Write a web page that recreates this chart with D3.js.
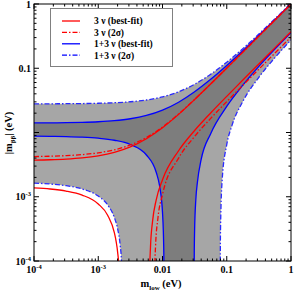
<!DOCTYPE html>
<html><head><meta charset="utf-8">
<script src="https://cdn.jsdelivr.net/npm/d3@7"></script>
<style>body{margin:0;background:#fff}svg{display:block}text{font-family:"Liberation Serif","DejaVu Serif",serif;font-weight:bold;fill:#000}</style>
</head><body><svg id="c" width="295" height="295"></svg>
<script>
// ---- data: [m_low (eV), |m_bb| (eV)] ----
const nu3BestMax = [[1e-4,0.00371],[1.78e-4,0.003763],[3.16e-4,0.003859],[5.62e-4,0.004031],[1e-3,0.004343],[1.78e-3,0.004912],[3.16e-3,0.005971],[5.62e-3,0.007987],[0.01,0.011849],[0.0178,0.019145],[0.0316,0.032571],[0.0562,0.056847],[0.1,0.100369],[0.178,0.17804],[0.316,0.31636],[0.562,0.56243],[1,1.0]];
const nu3BestMinLeft = [[1e-4,0.001373],[1.78e-4,0.00132],[3.16e-4,0.001226],[5.62e-4,0.001061],[1e-3,0.000773],[1.4e-3,0.000516],[1.78e-3,0.000276],[1.9e-3,0.0002],[2.0e-3,0.000139],[2.1e-3,0.000076],[2.2e-3,0.000015]];
const nu3BestMinRight = [[6.25e-3,0.000036],[6.3e-3,0.000062],[6.5e-3,0.000163],[7e-3,0.000414],[8e-3,0.000904],[0.01,0.001843],[0.0178,0.005203],[0.0316,0.010727],[0.0562,0.020149],[0.1,0.036551],[0.178,0.06544],[0.316,0.11664],[0.562,0.20757],[1,0.36917]];
const nu3SigMax = [[1e-4,0.00422],[1.78e-4,0.004272],[3.16e-4,0.004363],[5.62e-4,0.004528],[1e-3,0.004826],[1.78e-3,0.005374],[3.16e-3,0.006397],[5.62e-3,0.00836],[0.01,0.012149],[0.0178,0.019371],[0.0316,0.032732],[0.0562,0.056954],[0.1,0.100434],[0.178,0.17808],[0.316,0.31637],[0.562,0.56241],[1,1.0]];
const nu3SigMinRight = [[7.5e-3,0.000044],[7.6e-3,0.000087],[7.8e-3,0.000173],[8.5e-3,0.000471],[0.01,0.001085],[0.0178,0.003999],[0.0316,0.008669],[0.0562,0.016567],[0.1,0.030236],[0.178,0.054359],[0.316,0.09673],[0.562,0.17218],[1,0.3062]];
const nu13BestMax = [[1e-4,0.014071],[1.78e-4,0.014126],[3.16e-4,0.014223],[5.62e-4,0.014397],[1e-3,0.014712],[1.78e-3,0.015288],[3.16e-3,0.01636],[5.62e-3,0.018394],[0.01,0.022289],[0.0178,0.029628],[0.0316,0.043082],[0.0562,0.0673],[0.1,0.110581],[0.178,0.187661],[0.316,0.324889],[0.562,0.56925],[1,1.004588]];
const nu13BestMinLeft = [[1e-4,0.008789],[1.78e-4,0.008734],[3.16e-4,0.008637],[5.62e-4,0.008463],[1e-3,0.008148],[1.78e-3,0.007572],[3.16e-3,0.0065],[5.62e-3,0.004466],[8e-3,0.002384],[9e-3,0.001483],[0.01,0.000571],[0.0103,0.000295],[0.0104,0.000203],[0.0105,0.000111],[0.0106,0.000019]];
const nu13BestMinRight = [[0.0309,0.00001],[0.0312,0.00012],[0.0316,0.0003],[0.033,0.0009],[0.035,0.0017],[0.04,0.0038],[0.0562,0.0096],[0.1,0.0255],[0.178,0.0545],[0.316,0.107],[0.562,0.199],[1,0.36]];
const nu13SigMax = [[1e-4,0.02792],[1.78e-4,0.027972],[3.16e-4,0.028063],[5.62e-4,0.028228],[1e-3,0.028526],[1.78e-3,0.029074],[3.16e-3,0.030097],[5.62e-3,0.03206],[0.01,0.035849],[0.0178,0.043071],[0.0316,0.056432],[0.0562,0.080654],[0.1,0.124204],[0.178,0.20201],[0.316,0.3408],[0.562,0.58835],[1,1.03024]];
const nu13SigMinLeft = [[1e-4,0.00163],[1.78e-4,0.001578],[3.16e-4,0.001487],[5.62e-4,0.001322],[1e-3,0.001024],[1.4e-3,0.000746],[1.78e-3,0.000476],[2e-3,0.000318],[2.2e-3,0.000172],[2.3e-3,0.000099],[2.4e-3,0.000023]];
const nu13SigMinRight = [[0.079,0.000007],[0.0795,0.000163],[0.08,0.00032],[0.085,0.001875],[0.1,0.006466],[0.12,0.012672],[0.178,0.030429],[0.316,0.0723],[0.562,0.14624],[1,0.27599]];

const xTicks = [[1e-4,"10","-4"],[1e-3,"10","-3"],[1e-2,"0.01",""],[1e-1,"0.1",""],[1,"1",""]];
const yTicks = [[1e-4,"10","-4"],[1e-3,"10","-3"],[1e-1,"0.1",""],[1,"1",""]];
const legendItems = [["3 \u03BD (best-fit)","red",false],["3 \u03BD (2\u03C3)","red",true],["1+3 \u03BD (best-fit)","blue",false],["1+3 \u03BD (2\u03C3)","blue",true]];

// ---- drawing ----
const svg = d3.select("#c");
const L=34,R=291,T=4,B=261;
const x = d3.scaleLog().domain([1e-4,1]).range([L,R]);
const y = d3.scaleLog().domain([1e-4,1]).range([B,T]);
const line = d3.line().x(d=>x(d[0])).y(d=>y(d[1])).curve(d3.curveMonotoneX);
const DASH = "5,2,1.5,2";

svg.append("clipPath").attr("id","clip").append("rect").attr("x",L).attr("y",T).attr("width",R-L).attr("height",B-T);
const g = svg.append("g").attr("clip-path","url(#clip)");

function band(upper, lowerL, lowerR){
  let p = line(upper);
  p += line(lowerR.slice().reverse()).replace(/^M/,"L");
  p += line(lowerL.slice().reverse()).replace(/^M/,"L");
  return p + "Z";
}
g.append("path").attr("d",band(nu13SigMax,nu13SigMinLeft,nu13SigMinRight)).attr("fill","#a6a6a6");
g.append("path").attr("d",band(nu13BestMax,nu13BestMinLeft,nu13BestMinRight)).attr("fill","#7d7d7d");

function curve(data,color,dashed){
  g.append("path").attr("d",line(data)).attr("fill","none").attr("stroke",color)
   .attr("stroke-width",1.3).attr("stroke-dasharray",dashed?DASH:null);
}
[nu13SigMax,nu13SigMinLeft,nu13SigMinRight].forEach(d=>curve(d,"#2a2aff",true));
[nu13BestMax,nu13BestMinLeft,nu13BestMinRight].forEach(d=>curve(d,"#0000ff",false));
[nu3SigMax,nu3SigMinRight].forEach(d=>curve(d,"#ff0000",true));
[nu3BestMax,nu3BestMinLeft,nu3BestMinRight].forEach(d=>curve(d,"#ff0000",false));

// frame
svg.append("rect").attr("x",L).attr("y",T).attr("width",R-L).attr("height",B-T).attr("fill","none").attr("stroke","#000").attr("stroke-width",1);
// ticks
const majors=[1e-4,1e-3,1e-2,1e-1,1];
const minors=[];
[1e-4,1e-3,1e-2,1e-1].forEach(d=>{for(let k=2;k<=9;k++)minors.push(d*k);});
const tk = svg.append("g").attr("stroke","#000").attr("stroke-width",1);
function ticks(vals,len){
  vals.forEach(v=>{
    const px=x(v), py=y(v);
    tk.append("line").attr("x1",px).attr("x2",px).attr("y1",B).attr("y2",B-len);
    tk.append("line").attr("x1",px).attr("x2",px).attr("y1",T).attr("y2",T+len);
    tk.append("line").attr("y1",py).attr("y2",py).attr("x1",L).attr("x2",L+len);
    tk.append("line").attr("y1",py).attr("y2",py).attr("x1",R).attr("x2",R-len);
  });
}
ticks(majors,5); ticks(minors,2.5);

// tick labels
xTicks.forEach(([v,base,sup])=>{
  const t=svg.append("text").attr("x",x(v)).attr("y",273).attr("text-anchor","middle").attr("font-size",10);
  t.append("tspan").text(base);
  if(sup) t.append("tspan").attr("dy",-4).attr("font-size",6.5).text(sup);
});
yTicks.forEach(([v,base,sup])=>{
  const t=svg.append("text").attr("x",31).attr("y",y(v)+3.5).attr("text-anchor","end").attr("font-size",10);
  t.append("tspan").text(base);
  if(sup) t.append("tspan").attr("dy",-4).attr("font-size",6.5).text(sup);
});
// axis titles
const xt=svg.append("text").attr("x",161).attr("y",287).attr("text-anchor","middle").attr("font-size",10.5);
xt.append("tspan").text("m");
xt.append("tspan").attr("dy",2.5).attr("font-size",7).text("low");
xt.append("tspan").attr("dy",-2.5).text(" (eV)");
const yt=svg.append("text").attr("transform","translate(12,133) rotate(-90)").attr("text-anchor","middle").attr("font-size",10.5);
yt.append("tspan").text("|m");
yt.append("tspan").attr("dy",2.5).attr("font-size",7).text("\u03B2\u03B2");
yt.append("tspan").attr("dy",-2.5).text("| (eV)");

// legend
svg.append("rect").attr("x",50.5).attr("y",8.5).attr("width",122).attr("height",58).attr("fill","#fff").attr("stroke","#808080").attr("stroke-width",1);
legendItems.forEach(([label,color,dashed],i)=>{
  const yy=21+i*11.4;
  svg.append("line").attr("x1",62).attr("x2",80).attr("y1",yy).attr("y2",yy).attr("stroke",color).attr("stroke-width",1.3).attr("stroke-dasharray",dashed?DASH:null);
  svg.append("text").attr("x",94).attr("y",yy+3.3).attr("font-size",9.5).text(label);
});
</script></body></html>
